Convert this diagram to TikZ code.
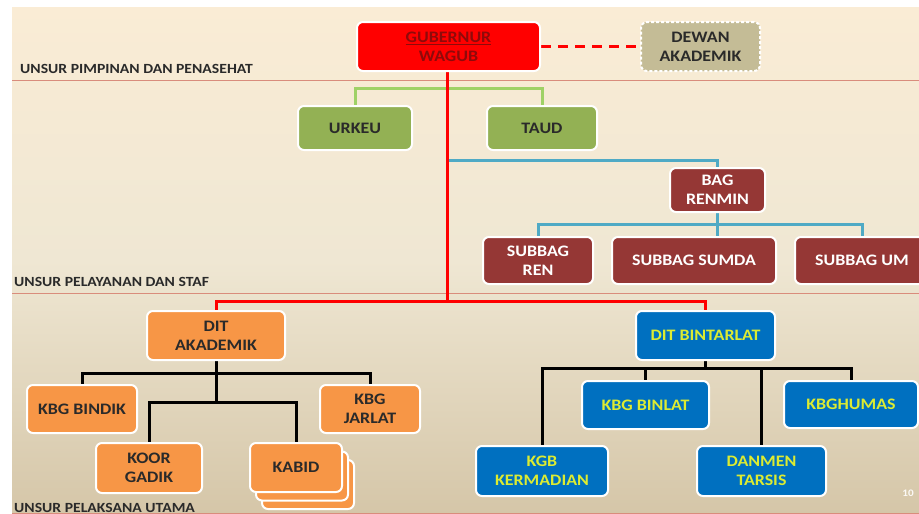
\documentclass[tikz,border=0pt]{standalone}
\usepackage{fontspec}
\setmainfont{Carlito}[FakeStretch=1.12]
\definecolor{bgtop}{HTML}{FAECD5}
\definecolor{bgmid}{HTML}{EFE7D3}
\definecolor{bgbot}{HTML}{D5C6A8}
\definecolor{bandline}{HTML}{D98C7C}
\definecolor{govred}{HTML}{FF0000}
\definecolor{govtext}{HTML}{8E0A0A}
\definecolor{khaki}{HTML}{C4BC96}
\definecolor{olive}{HTML}{93B154}
\definecolor{lightgreen}{HTML}{9FD166}
\definecolor{maroon}{HTML}{953735}
\definecolor{aqua}{HTML}{4FAAC5}
\definecolor{orangefill}{HTML}{F79646}
\definecolor{bluefill}{HTML}{0070C0}
\definecolor{yellowtext}{HTML}{DCEB32}
\definecolor{darktext}{HTML}{2A2A2A}
\pgfdeclarelayer{paper}
\pgfdeclarelayer{links}
\pgfsetlayers{paper,links,main}
\tikzset{
  box/.style={draw=white, line width=2pt, rounded corners=6pt, align=center,
    font=\fontsize{16}{19}\selectfont\bfseries, inner sep=0pt},
  govbox/.style={box, fill=govred, text=govtext},
  advbox/.style={box, fill=khaki, text=darktext, dashed, dash pattern=on 3pt off 2pt},
  greenbox/.style={box, fill=olive, text=darktext},
  staffbox/.style={box, fill=maroon, text=white},
  orangebox/.style={box, fill=orangefill, text=darktext},
  bluebox/.style={box, fill=bluefill, text=yellowtext},
  redlink/.style={draw=govred, line width=3pt},
  greenlink/.style={draw=lightgreen, line width=3pt},
  aqualink/.style={draw=aqua, line width=3pt},
  blacklink/.style={draw=black, line width=3pt},
  bandlabel/.style={anchor=base west, inner sep=0pt, text=darktext,
    font=\fontsize{14}{16}\selectfont\bfseries},
}
\begin{document}
\begin{tikzpicture}[x=1pt, y=-1pt]
\useasboundingbox (0,0) rectangle (919,514);
\clip (0,0) rectangle (919,514);
% page and background
\begin{pgfonlayer}{paper}
\fill[white] (0,0) rectangle (919,514);
\shade[top color=bgtop, bottom color=bgbot, middle color=bgmid] (12,7) rectangle (919,514);
\draw[bandline, line width=1pt] (12,80) -- (919,80);
\draw[bandline, line width=1pt] (12,293) -- (919,293);
\draw[bandline, line width=1pt] (12,513) -- (919,513);
\end{pgfonlayer}

% band labels
\node[bandlabel] (lbltop) at (20,73) {UNSUR PIMPINAN DAN PENASEHAT};
\node[bandlabel] (lblmid) at (14,286) {UNSUR PELAYANAN DAN STAF};
\node[bandlabel] (lblbot) at (14,512) {UNSUR PELAKSANA UTAMA};
\node[anchor=base east, inner sep=0pt, text=white!90!bgbot, font=\fontsize{10}{12}\selectfont\bfseries] (pageno) at (914,496) {10};

% top level
\node[govbox, minimum width=183pt, minimum height=49pt] (gub) at (448.5,46.5) {\underline{GUBERNUR}\\WAGUB};
\node[advbox, minimum width=119pt, minimum height=49pt] (dewan) at (700.5,46.5) {DEWAN\\AKADEMIK};

% staff
\node[greenbox, minimum width=114pt, minimum height=44pt] (urkeu) at (355,128) {URKEU};
\node[greenbox, minimum width=110pt, minimum height=44pt] (taud) at (542,128) {TAUD};
\node[staffbox, minimum width=95pt, minimum height=44pt] (renmin) at (717.5,190) {BAG\\RENMIN};
\node[staffbox, minimum width=110pt, minimum height=47pt] (ren) at (538,260.5) {SUBBAG\\REN};
\node[staffbox, minimum width=164pt, minimum height=47pt] (sumda) at (694,260.5) {SUBBAG SUMDA};
\node[staffbox, minimum width=134pt, minimum height=47pt] (um) at (862,260.5) {SUBBAG UM};

% directorates
\node[orangebox, minimum width=138pt, minimum height=49pt] (dak) at (216,335.5) {DIT\\AKADEMIK};
\node[bluebox, minimum width=139pt, minimum height=49pt] (dbt) at (705.5,335.5) {DIT BINTARLAT};

% academic directorate units
\node[orangebox, minimum width=110pt, minimum height=48pt] (bindik) at (82,409) {KBG BINDIK};
\node[orangebox, minimum width=100pt, minimum height=48pt] (jarlat) at (370,409) {KBG\\JARLAT};
\node[orangebox, minimum width=106pt, minimum height=50pt] (gadik) at (149,468) {KOOR\\GADIK};
\node[orangebox, minimum width=92pt, minimum height=49pt] (kabid3) at (308,484.5) {};
\node[orangebox, minimum width=92pt, minimum height=49pt] (kabid2) at (302,476) {};
\node[orangebox, minimum width=92pt, minimum height=49pt] (kabid) at (296,467.5) {KABID};

% training directorate units
\node[bluebox, minimum width=127pt, minimum height=48pt] (binlat) at (645.5,405) {KBG BINLAT};
\node[bluebox, minimum width=134pt, minimum height=47pt] (humas) at (851,404.5) {KBGHUMAS};
\node[bluebox, minimum width=132pt, minimum height=50pt] (kerm) at (542,471) {KGB\\KERMADIAN};
\node[bluebox, minimum width=129pt, minimum height=50pt] (danmen) at (761.5,471) {DANMEN\\TARSIS};

% junction points
\coordinate (gj) at (447,88);
\coordinate (bj) at (447,160);
\coordinate (redj) at (447,301);
\coordinate (rj) at (717.5,224);
\coordinate (aj1) at (216,373);
\coordinate (aj2) at (216,402);
\coordinate (bj1) at (705.5,368);

% connectors, beneath the boxes
\begin{pgfonlayer}{links}
\draw[greenlink] (urkeu.north) |- (gj) -| (taud.north);
\draw[aqualink] (bj) -| (renmin.north);
\draw[aqualink] (renmin.south) -- (rj);
\draw[aqualink] (ren.north) |- (rj) -| (um.north);
\draw[aqualink] (rj) -- (rj |- sumda.north);
\draw[redlink] (gub.south -| redj) -- (redj);
\draw[redlink] (dak.north) |- (redj) -| (dbt.north);
\draw[redlink, dash pattern=on 10pt off 7pt] (gub.east) -- (dewan.west);
\draw[blacklink] (dak.south) -- (aj2);
\draw[blacklink] (bindik.north) |- (aj1) -| (jarlat.north);
\draw[blacklink] (gadik.north) |- (aj2) -| (kabid.north);
\draw[blacklink] (dbt.south) -- (bj1);
\draw[blacklink] (kerm.north) |- (bj1) -| (humas.north);
\draw[blacklink] (binlat.north) |- (bj1);
\draw[blacklink] (danmen.north) |- (bj1);
\end{pgfonlayer}
\end{tikzpicture}
\end{document}
